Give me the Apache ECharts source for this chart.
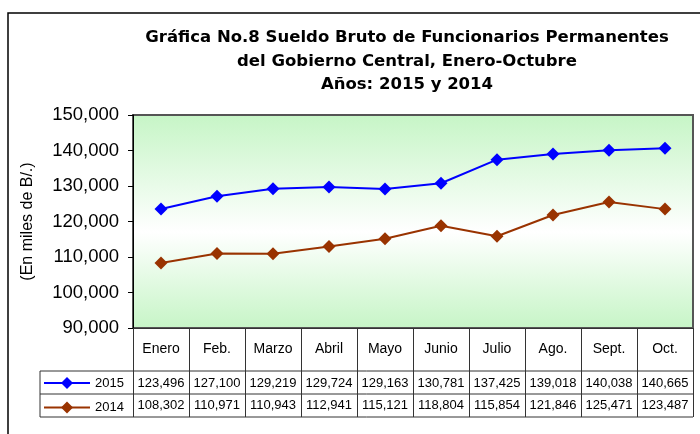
<!DOCTYPE html>
<html>
<head>
<meta charset="utf-8">
<script src="https://cdn.jsdelivr.net/npm/echarts@6/dist/echarts.min.js"></script>
<style>
  html, body { margin: 0; padding: 0; background: #fff; }
  #chart { width: 700px; height: 434px; }
</style>
</head>
<body>
<div id="chart"></div>
<script>
const months = ['Enero', 'Feb.', 'Marzo', 'Abril', 'Mayo', 'Junio', 'Julio', 'Ago.', 'Sept.', 'Oct.'];
const values2015 = [123496, 127100, 129219, 129724, 129163, 130781, 137425, 139018, 140038, 140665];
const values2014 = [108302, 110971, 110943, 112941, 115121, 118804, 115854, 121846, 125471, 123487];
const yTicks = { min: 90000, max: 150000, interval: 10000 };

const fmt = v => Number(v).toLocaleString('en-US');

// plot box and table rows (pixels)
const plotL = 133, plotR = 693, plotT = 115, plotB = 328;
const row1 = 371, row2 = 394, row3 = 417, legL = 40;
const font = 'Arial, "Liberation Sans", sans-serif';

const valueAxis = (values, off) => ({
    type: 'category',
    data: months,
    position: 'bottom',
    offset: off,
    axisLine: { show: false },
    axisTick: { show: false },
    axisLabel: {
        interval: 0,
        margin: 0,
        fontSize: 13,
        fontFamily: font,
        color: '#000',
        formatter: (v, i) => fmt(values[i])
    }
});

const chart = echarts.init(document.getElementById('chart'));
chart.setOption({
    animation: false,
    textStyle: { fontFamily: font },
    title: {
        text: 'Gráfica No.8 Sueldo Bruto de Funcionarios Permanentes\ndel Gobierno Central, Enero-Octubre\nAños: 2015 y 2014',
        left: 402,
        textAlign: 'center',
        top: 21,
        textStyle: { fontSize: 16.5, fontWeight: 'bold', color: '#000', lineHeight: 23.5, fontFamily: '"DejaVu Sans", Arial, sans-serif' }
    },
    legend: {
        orient: 'vertical',
        left: 43,
        top: 376.5,
        padding: 0,
        itemWidth: 46,
        itemHeight: 15,
        itemGap: 11.5,
        textStyle: { fontSize: 13, color: '#000', fontFamily: font },
        data: ['2015', '2014']
    },
    grid: {
        left: plotL, right: 700 - plotR, top: plotT, bottom: 434 - plotB,
        show: true,
        borderColor: '#555',
        borderWidth: 2,
        backgroundColor: {
            type: 'linear', x: 0, y: 0, x2: 0, y2: 1,
            colorStops: [
                { offset: 0, color: '#c6f5c6' },
                { offset: 0.55, color: '#ffffff' },
                { offset: 1, color: '#c6f5c6' }
            ]
        }
    },
    xAxis: [
        {
            type: 'category',
            data: months,
            boundaryGap: true,
            axisLine: { show: true, lineStyle: { color: '#333', width: 1 } },
            axisTick: { show: true, length: row3 - plotB, lineStyle: { color: '#333' } },
            axisLabel: { interval: 0, margin: 14, fontSize: 14, color: '#000', fontFamily: font }
        },
        valueAxis(values2015, 49),
        valueAxis(values2014, 71)
    ],
    yAxis: {
        type: 'value',
        min: yTicks.min,
        max: yTicks.max,
        interval: yTicks.interval,
        name: '(En miles de B/.)',
        nameLocation: 'middle',
        nameGap: 97,
        nameTextStyle: { fontSize: 16, color: '#000', fontFamily: font },
        axisLine: { show: true, lineStyle: { color: '#000' } },
        axisTick: { show: true, length: 5, lineStyle: { color: '#000' } },
        splitLine: { show: false },
        axisLabel: { fontSize: 18.5, color: '#000', margin: 14, formatter: v => fmt(v), fontFamily: font }
    },
    series: [
        {
            name: '2015',
            type: 'line',
            data: values2015,
            color: '#0000ff',
            symbol: 'diamond',
            symbolSize: 13,
            lineStyle: { width: 2 }
        },
        {
            name: '2014',
            type: 'line',
            data: values2014,
            color: '#993300',
            symbol: 'diamond',
            symbolSize: 13,
            lineStyle: { width: 2 }
        }
    ],
    graphic: [
        // outer frame
        { type: 'rect', shape: { x: 8, y: 13, width: 720, height: 450 }, style: { fill: 'none', stroke: '#000', lineWidth: 1.5 }, silent: true },
        // table lines
        { type: 'line', shape: { x1: legL, y1: row1, x2: plotR, y2: row1 }, style: { stroke: '#333', lineWidth: 1 } },
        { type: 'line', shape: { x1: legL, y1: row2, x2: plotR, y2: row2 }, style: { stroke: '#333', lineWidth: 1 } },
        { type: 'line', shape: { x1: legL, y1: row3, x2: plotR, y2: row3 }, style: { stroke: '#333', lineWidth: 1 } },
        { type: 'line', shape: { x1: legL, y1: row1, x2: legL, y2: row3 }, style: { stroke: '#333', lineWidth: 1 } }
    ]
});
</script>
</body>
</html>
